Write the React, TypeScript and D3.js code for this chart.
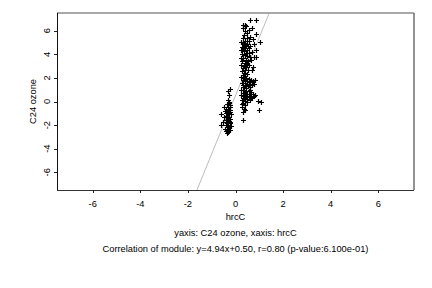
import { useEffect, useRef } from "react";
import { select, scaleLinear, line } from "d3";

// x ticks, y ticks
const xTicks = [-6, -4, -2, 0, 2, 4, 6];
const yTicks = [-6, -4, -2, 0, 2, 4, 6];

const slope = 4.94;
const intercept = 0.5;

const xLabel = "hrcC";
const yLabel = "C24 ozone";
const subTitle = "yaxis: C24 ozone, xaxis: hrcC";
const corrText =
  "Correlation of module: y=4.94x+0.50, r=0.80 (p-value:6.100e-01)";

// lower-left cluster
const clusterA: [number, number][] = [
  [-0.31, 0.1], [-0.28, -0.05], [-0.35, -0.2], [-0.25, -0.3], [-0.32, -0.45],
  [-0.22, -0.5], [-0.38, -0.6], [-0.28, -0.7], [-0.34, -0.85], [-0.24, -0.9],
  [-0.4, -1.0], [-0.3, -1.05], [-0.2, -1.1], [-0.36, -1.2], [-0.26, -1.3],
  [-0.42, -1.35], [-0.32, -1.45], [-0.22, -1.5], [-0.38, -1.6], [-0.28, -1.65],
  [-0.34, -1.8], [-0.24, -1.85], [-0.4, -1.95], [-0.3, -2.0], [-0.2, -2.05],
  [-0.36, -2.15], [-0.26, -2.2], [-0.32, -2.35], [-0.22, -2.4], [-0.38, -2.5],
  [-0.3, -2.6], [-0.36, -2.7], [-0.27, -0.15], [-0.33, -0.95], [-0.23, -1.7],
  [-0.29, -2.45], [-0.35, -1.55], [-0.25, -0.75], [-0.62, -1.07], [-0.59, -2.0],
  [-0.52, -1.75], [-0.48, -1.3], [-0.45, -0.8], [-0.31, 0.85], [-0.24, 1.1],
  [-0.26, 0.55], [-0.45, -2.3], [-0.5, -0.5],
];

// upper-right cluster
const clusterB: [number, number][] = [
  [0.61, 6.87], [0.85, 6.87], [0.3, 6.5], [0.38, 6.45], [0.45, 6.4],
  [0.69, 6.25], [0.56, 6.1], [0.33, 6.2], [0.42, 5.95], [0.5, 5.8],
  [0.85, 5.7], [0.36, 5.6], [0.62, 5.5], [0.47, 5.4], [0.3, 5.35],
  [0.73, 5.3], [1.01, 5.07], [0.55, 5.15], [0.4, 5.1], [0.77, 4.9],
  [0.33, 4.95], [0.48, 4.85], [0.62, 4.7], [0.28, 4.6], [0.86, 4.34],
  [0.57, 4.55],
  [0.25, 5.0], [0.35, 4.9], [0.45, 4.8], [0.52, 4.7], [0.3, 4.6],
  [0.4, 4.5], [0.5, 4.4], [0.25, 4.35], [0.35, 4.25], [0.45, 4.15],
  [0.55, 4.1], [0.28, 4.0], [0.38, 3.9], [0.48, 3.85], [0.6, 3.8],
  [0.23, 3.7], [0.33, 3.65], [0.43, 3.55], [0.53, 3.45], [0.28, 3.4],
  [0.38, 3.3], [0.48, 3.2], [0.58, 3.1], [0.25, 3.1], [0.35, 3.0],
  [0.45, 2.9], [0.3, 2.8], [0.4, 2.7], [0.52, 2.65],
  [0.85, 3.77], [0.7, 4.2], [0.65, 3.5], [0.72, 2.95], [0.78, 3.8], [0.68, 2.7],
  [0.27, 2.55], [0.37, 2.45], [0.47, 2.35], [0.3, 2.25], [0.42, 2.15],
  [0.25, 2.05], [0.35, 2.0],
  [0.45, 1.95], [0.55, 1.9], [0.65, 1.85], [0.3, 1.8], [0.4, 1.75],
  [0.5, 1.7], [0.6, 1.65], [0.72, 1.7], [0.28, 1.6], [0.38, 1.55],
  [0.48, 1.5], [0.58, 1.45], [0.77, 1.52], [0.33, 1.4], [0.43, 1.35],
  [0.53, 1.3], [0.63, 1.25], [0.3, 1.2], [0.45, 1.15], [0.68, 1.4], [0.82, 1.85],
  [0.25, 1.0], [0.35, 0.95], [0.45, 0.9], [0.55, 0.85], [0.65, 0.8],
  [0.3, 0.75], [0.4, 0.7], [0.5, 0.65], [0.6, 0.6], [0.72, 0.65],
  [0.82, 0.59], [0.25, 0.55], [0.35, 0.5], [0.45, 0.45], [0.55, 0.4],
  [0.65, 0.35], [0.3, 0.3], [0.4, 0.25], [0.5, 0.2], [0.6, 0.15],
  [0.28, 0.1], [0.38, 0.05], [0.48, 0.0], [0.7, 0.3], [0.78, 0.45], [0.62, 0.95],
  [0.3, -0.15], [0.38, -0.3], [0.28, -0.45], [0.35, -0.6], [0.3, -0.87],
  [0.4, -0.75], [0.32, -1.58], [0.27, -0.25],
  [1.08, -0.03], [1.0, -0.73], [0.95, 0.05],
];

const size = { w: 432, h: 288, m: { t: 13, r: 18, b: 98, l: 57 } };

const draw = (ref: SVGSVGElement) => {
  const svg = select(ref);
  svg.selectAll("*").remove();

  const x0 = size.m.l;
  const x1 = size.w - size.m.r;
  const y0 = size.m.t;
  const y1 = size.h - size.m.b;

  const x = scaleLinear().domain([-7.5, 7.5]).range([x0, x1]);
  const y = scaleLinear().domain([-7.5, 7.5]).range([y1, y0]);

  const g = svg
    .append("g")
    .style("font-family", "'Liberation Sans', Arial, sans-serif")
    .style("font-size", "9.3px")
    .attr("fill", "#000");

  // regression line, clipped
  svg
    .append("clipPath")
    .attr("id", "plotclip")
    .append("rect")
    .attr("x", x0)
    .attr("y", y0)
    .attr("width", x1 - x0)
    .attr("height", y1 - y0);

  const ya = -7.5;
  const yb = 7.5;
  const regPts: [number, number][] = [
    [(ya - intercept) / slope, ya],
    [(yb - intercept) / slope, yb],
  ];
  g.append("path")
    .attr("clip-path", "url(#plotclip)")
    .attr(
      "d",
      line<[number, number]>()
        .x((d) => x(d[0]))
        .y((d) => y(d[1]))(regPts)
    )
    .attr("stroke", "#bdbdbd")
    .attr("stroke-width", 1)
    .attr("fill", "none");

  // points
  const pts = [...clusterA, ...clusterB];
  const r = 2.5;
  g.append("g")
    .selectAll("path")
    .data(pts)
    .join("path")
    .attr("d", (d) => {
      const cx = Math.round(x(d[0])) + 0.5;
      const cy = Math.round(y(d[1])) + 0.5;
      return `M${cx - r},${cy}H${cx + r}M${cx},${cy - r}V${cy + r}`;
    })
    .attr("stroke", "#000")
    .attr("stroke-width", 1.2)
    .attr("fill", "none");

  // frame
  g.append("line")
    .attr("x1", x0).attr("x2", x1)
    .attr("y1", y0).attr("y2", y0)
    .attr("stroke", "#8c8c8c").attr("stroke-width", 1.5);
  g.append("line")
    .attr("x1", x1).attr("x2", x1)
    .attr("y1", y0).attr("y2", y1)
    .attr("stroke", "#6e6e6e").attr("stroke-width", 1.5);
  g.append("line")
    .attr("x1", x0 + 0.5).attr("x2", x0 + 0.5)
    .attr("y1", y0).attr("y2", y1)
    .attr("stroke", "#111").attr("stroke-width", 1);
  g.append("line")
    .attr("x1", x0).attr("x2", x1)
    .attr("y1", y1 + 0.5).attr("y2", y1 + 0.5)
    .attr("stroke", "#333").attr("stroke-width", 1);

  // x ticks
  const xt = g.append("g");
  xt.selectAll("line")
    .data(xTicks)
    .join("line")
    .attr("x1", (d) => Math.round(x(d)) + 0.5)
    .attr("x2", (d) => Math.round(x(d)) + 0.5)
    .attr("y1", y1)
    .attr("y2", y1 + 3)
    .attr("stroke", "#222");
  xt.selectAll("text")
    .data(xTicks)
    .join("text")
    .attr("x", (d) => x(d))
    .attr("y", y1 + 17)
    .attr("text-anchor", "middle")
    .attr("fill", "#000")
    .text((d) => String(d));

  // y ticks
  const yt = g.append("g");
  yt.selectAll("line")
    .data(yTicks)
    .join("line")
    .attr("x1", x0 - 3)
    .attr("x2", x0)
    .attr("y1", (d) => Math.round(y(d)) + 0.5)
    .attr("y2", (d) => Math.round(y(d)) + 0.5)
    .attr("stroke", "#222");
  yt.selectAll("text")
    .data(yTicks)
    .join("text")
    .attr("transform", (d) => `translate(${x0 - 7},${y(d)}) rotate(-90)`)
    .attr("text-anchor", "middle")
    .attr("fill", "#000")
    .text((d) => String(d));

  // labels
  g.append("text")
    .attr("x", (x0 + x1) / 2)
    .attr("y", y1 + 30)
    .attr("text-anchor", "middle")
    .attr("fill", "#000")
    .text(xLabel);
  g.append("text")
    .attr("transform", `translate(36,${(y0 + y1) / 2}) rotate(-90)`)
    .attr("text-anchor", "middle")
    .attr("fill", "#000")
    .text(yLabel);
  g.append("text")
    .attr("x", (x0 + x1) / 2)
    .attr("y", y1 + 46)
    .attr("text-anchor", "middle")
    .attr("fill", "#000")
    .text(subTitle);
  g.append("text")
    .attr("x", (x0 + x1) / 2)
    .attr("y", y1 + 62)
    .attr("text-anchor", "middle")
    .attr("fill", "#000")
    .text(corrText);
};

export default function App() {
  const ref = useRef<SVGSVGElement>(null);
  useEffect(() => {
    if (ref.current) draw(ref.current);
  }, []);
  return (
    <svg
      ref={ref}
      width={size.w}
      height={size.h}
      style={{ position: "absolute", left: 0, top: 0, background: "#fff" }}
    />
  );
}
